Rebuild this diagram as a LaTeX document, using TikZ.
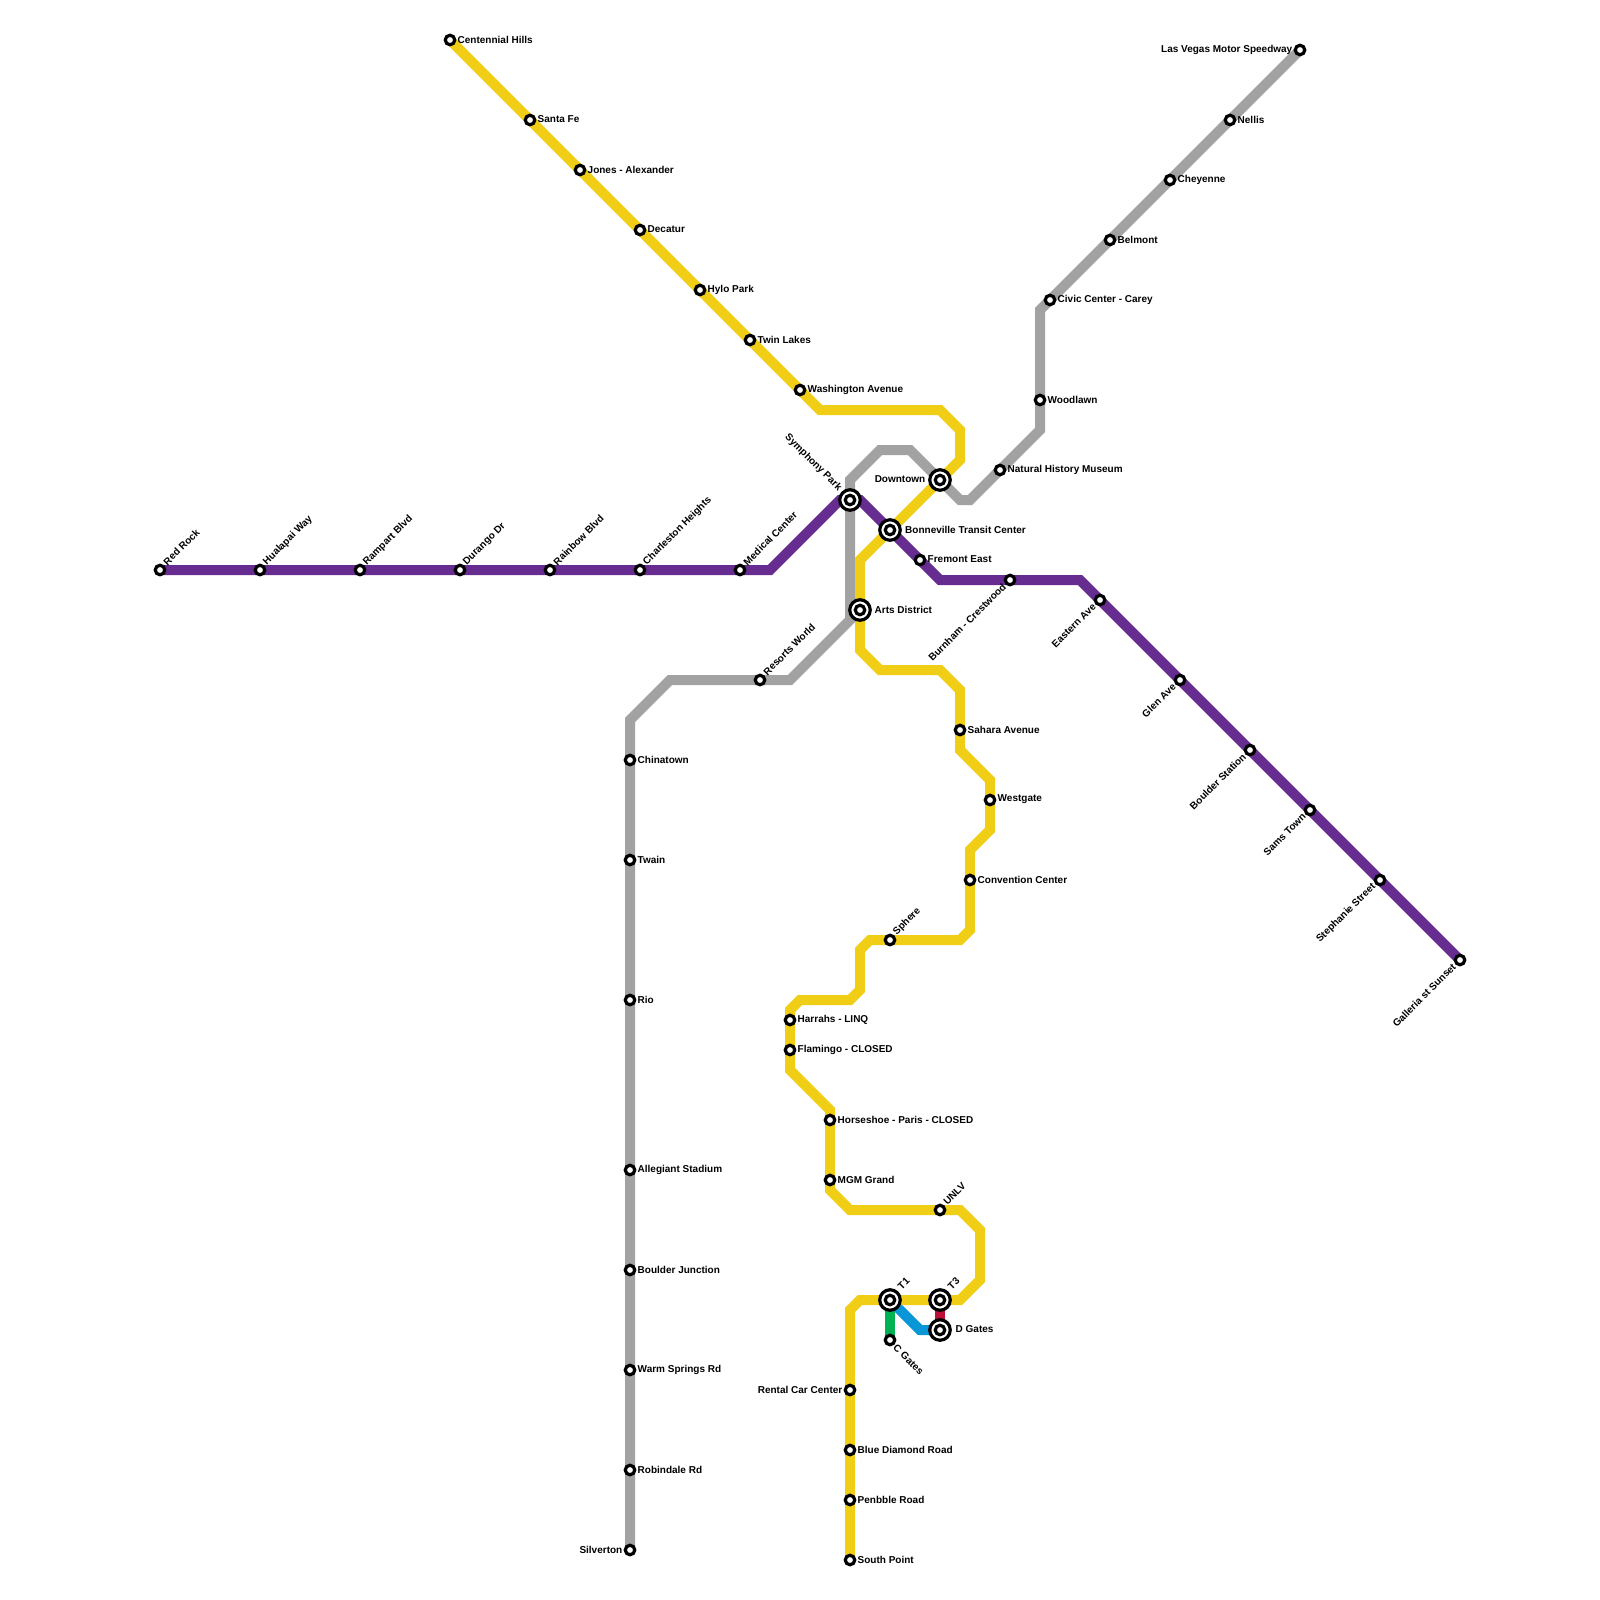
\documentclass[tikz,border=0pt]{standalone}
\usepackage{fontspec}
\setmainfont{Liberation Sans}
\usetikzlibrary{backgrounds}
\definecolor{rapidpurple}{HTML}{662C90}
\definecolor{rapidyellow}{HTML}{F0CE15}
\definecolor{rapidgrey}{HTML}{A2A2A2}
\definecolor{rapidgreen}{HTML}{00B251}
\definecolor{rapidblue}{HTML}{0896D7}
\definecolor{rapidred}{HTML}{BD1038}

\begin{document}
\begin{tikzpicture}[
  x=10pt,y=-10pt,
  font=\bfseries\fontsize{10}{11}\selectfont,
  stn/.style={circle,draw=black,fill=white,line width=3.2pt,minimum size=9.5pt,inner sep=0pt,outer sep=0pt},
  hub/.style={circle,draw=black,fill=white,line width=3.2pt,minimum size=20.5pt,inner sep=0pt,outer sep=0pt},
  rline/.style={line width=10pt,miter limit=10},
  tE/.style={anchor=west,inner sep=0pt,xshift=7.5pt,yshift=0.5pt},
  tW/.style={anchor=east,inner sep=0pt,xshift=-7.5pt,yshift=0.5pt},
  tNE/.style={anchor=west,inner sep=0pt,rotate=45,xshift=8pt,yshift=1pt},
  tSW/.style={anchor=east,inner sep=0pt,rotate=45,xshift=-7.7pt,yshift=0.5pt},
  tNW/.style={anchor=east,inner sep=0pt,rotate=-45},
  tSE/.style={anchor=west,inner sep=0pt,rotate=-45},
]
\useasboundingbox (0,0) rectangle (160,160);

% ===================== INTERCHANGES =====================
\foreach \n/\x/\y in {symphony/85/50,bonneville/89/53,downtown/94/48,arts/86/61,tone/89/130,tthree/94/130,dgates/94/133}{
  \node[hub] (\n) at (\x,\y) {};
  \node[stn] (\n-c) at (\n) {};
}
\node[tNW] (symphony-t) at (84.0,48.95) {Symphony Park};
\node[tE] (bonneville-t) at (89.75,53) {Bonneville Transit Center};
\node[tW] (downtown-t) at (93.3,48) {Downtown};
\node[tE] (arts-t) at (86.7,61) {Arts District};
\node[tNE] (tone-t) at (89.44,129.42) {T1};
\node[tNE] (tthree-t) at (94.44,129.42) {T3};
\node[tE] (dgates-t) at (94.8,133) {D Gates};

% ===================== STATIONS =====================
% label to the right
\foreach \n/\x/\y/\t in {
  centennial/45/4/Centennial Hills,santafe/53/12/Santa Fe,jones/58/17/Jones - Alexander,
  decatur/64/23/Decatur,hylo/70/29/Hylo Park,twin/75/34/Twin Lakes,washington/80/39/Washington Avenue,
  fremont/92/56/Fremont East,sahara/96/73/Sahara Avenue,westgate/99/80/Westgate,
  convention/97/88/Convention Center,harrahs/79/102/Harrahs - LINQ,flamingo/79/105/Flamingo - CLOSED,
  horseshoe/83/112/Horseshoe - Paris - CLOSED,mgm/83/118/MGM Grand,
  diamond/85/145/Blue Diamond Road,penbble/85/150/Penbble Road,south/85/156/South Point,
  chinatown/63/76/Chinatown,twain/63/86/Twain,rio/63/100/Rio,allegiant/63/117/Allegiant Stadium,
  junction/63/127/Boulder Junction,warm/63/137/Warm Springs Rd,robindale/63/147/Robindale Rd,
  history/100/47/Natural History Museum,woodlawn/104/40/Woodlawn,civic/105/30/Civic Center - Carey,
  belmont/111/24/Belmont,cheyenne/117/18/Cheyenne,nellis/123/12/Nellis}{
  \node[stn] (\n) at (\x,\y) {};
  \node[tE] (\n-t) at (\x,\y) {\t};
}
% label to the left
\foreach \n/\x/\y/\t in {speedway/130/5/Las Vegas Motor Speedway,silverton/63/155/Silverton,rental/85/139/Rental Car Center}{
  \node[stn] (\n) at (\x,\y) {};
  \node[tW] (\n-t) at (\x,\y) {\t};
}
% label rising to the right
\foreach \n/\x/\y/\t in {
  redrock/16/57/Red Rock,hualapai/26/57/Hualapai Way,rampart/36/57/Rampart Blvd,durango/46/57/Durango Dr,
  rainbow/55/57/Rainbow Blvd,charleston/64/57/Charleston Heights,medical/74/57/Medical Center,
  resorts/76/68/Resorts World,sphere/89/94/Sphere,unlv/94/121/UNLV}{
  \node[stn] (\n) at (\x,\y) {};
  \node[tNE] (\n-t) at (\x,\y) {\t};
}
% label falling to the left
\foreach \n/\x/\y/\t in {
  burnham/101/58/Burnham - Crestwood,eastern/110/60/Eastern Ave,glen/118/68/Glen Ave,
  boulder/125/75/Boulder Station,sams/131/81/Sams Town,stephanie/138/88/Stephanie Street,
  galleria/146/96/Galleria st Sunset}{
  \node[stn] (\n) at (\x,\y) {};
  \node[tSW] (\n-t) at (\x,\y) {\t};
}
\node[stn] (cgates) at (89,134) {};
\node[tSE] (cgates-t) at (89.5,134.6) {C Gates};

% ===================== LINES =====================
\begin{pgfonlayer}{background}
  \draw[rline,rapidgrey] (speedway.center)--(nellis.center)--(cheyenne.center)--(belmont.center)--(civic.center)
    --(104,31)--(woodlawn.center)--(104,43)--(history.center)--(97,50)--(96,50)--(downtown.center)
    --(91,45)--(88,45)--(85,48)--(symphony.center)--(85,62)--(79,68)--(resorts.center)--(67,68)--(63,72)
    --(chinatown.center)--(twain.center)--(rio.center)--(allegiant.center)--(junction.center)
    --(warm.center)--(robindale.center)--(silverton.center);
  \draw[rline,rapidgreen] (tone.center)--(cgates.center);
  \draw[rline,rapidblue] (tone.center)--(92,133)--(dgates.center);
  \draw[rline,rapidred] (tthree.center)--(dgates.center);
  \draw[rline,rapidyellow] (centennial.center)--(santafe.center)--(jones.center)--(decatur.center)--(hylo.center)
    --(twin.center)--(washington.center)--(82,41)--(94,41)--(96,43)--(96,46)--(downtown.center)
    --(bonneville.center)--(86,56)--(arts.center)--(86,65)--(88,67)--(94,67)--(96,69)--(sahara.center)
    --(96,75)--(99,78)--(westgate.center)--(99,83)--(97,85)--(convention.center)--(97,93)--(96,94)
    --(sphere.center)--(87,94)--(86,95)--(86,99)--(85,100)--(80,100)--(79,101)--(harrahs.center)
    --(flamingo.center)--(79,107)--(83,111)--(horseshoe.center)--(mgm.center)--(83,119)--(85,121)
    --(unlv.center)--(96,121)--(98,123)--(98,128)--(96,130)--(tthree.center)--(tone.center)
    --(86,130)--(85,131)--(rental.center)--(diamond.center)--(penbble.center)--(south.center);
  \draw[rline,rapidpurple] (redrock.center)--(hualapai.center)--(rampart.center)--(durango.center)--(rainbow.center)
    --(charleston.center)--(medical.center)--(77,57)--(84,50)--(symphony.center)--(86,50)--(bonneville.center)--(fremont.center)
    --(94,58)--(burnham.center)--(108,58)--(eastern.center)--(glen.center)--(boulder.center)--(sams.center)
    --(stephanie.center)--(galleria.center);
\end{pgfonlayer}
\end{tikzpicture}
\end{document}
